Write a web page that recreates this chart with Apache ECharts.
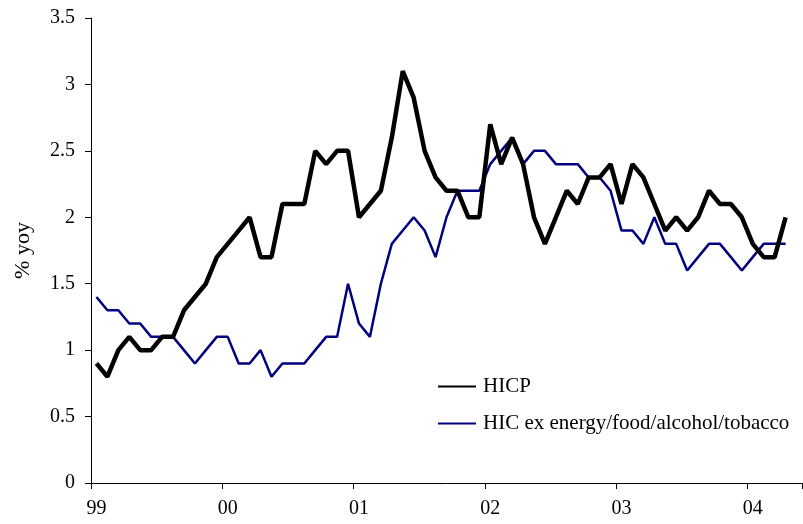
<!DOCTYPE html>
<html>
<head>
<meta charset="utf-8">
<script src="https://cdn.jsdelivr.net/npm/echarts@6/dist/echarts.min.js"></script>
<style>
  html, body { margin: 0; padding: 0; background: #fff; }
  #chart { width: 803px; height: 524px; }
</style>
</head>
<body>
<div id="chart"></div>
<script>
const years = ['99', '00', '01', '02', '03', '04']

// one category per month from Jan 1999; the axis runs a month past the data
const categories = []
years.forEach((y) => {
  for (let m = 1; m <= 12; m++) categories.push(y + '-' + m)
})
categories.length = 65

const hicp = [
  0.9, 0.8, 1.0, 1.1, 1.0, 1.0, 1.1, 1.1, 1.3, 1.4, 1.5, 1.7,
  1.8, 1.9, 2.0, 1.7, 1.7, 2.1, 2.1, 2.1, 2.5, 2.4, 2.5, 2.5,
  2.0, 2.1, 2.2, 2.6, 3.1, 2.9, 2.5, 2.3, 2.2, 2.2, 2.0, 2.0,
  2.7, 2.4, 2.6, 2.4, 2.0, 1.8, 2.0, 2.2, 2.1, 2.3, 2.3, 2.4,
  2.1, 2.4, 2.3, 2.1, 1.9, 2.0, 1.9, 2.0, 2.2, 2.1, 2.1, 2.0,
  1.8, 1.7, 1.7, 2.0,
]

const hicCore = [
  1.4, 1.3, 1.3, 1.2, 1.2, 1.1, 1.1, 1.1, 1.0, 0.9, 1.0, 1.1,
  1.1, 0.9, 0.9, 1.0, 0.8, 0.9, 0.9, 0.9, 1.0, 1.1, 1.1, 1.5,
  1.2, 1.1, 1.5, 1.8, 1.9, 2.0, 1.9, 1.7, 2.0, 2.2, 2.2, 2.2,
  2.4, 2.5, 2.6, 2.4, 2.5, 2.5, 2.4, 2.4, 2.4, 2.3, 2.3, 2.2,
  1.9, 1.9, 1.8, 2.0, 1.8, 1.8, 1.6, 1.7, 1.8, 1.8, 1.7, 1.6,
  1.7, 1.8, 1.8, 1.8,
]

const font = 'Liberation Serif'

const chart = echarts.init(document.getElementById('chart'))

chart.setOption({
  animation: false,
  grid: { left: 91, right: 1, top: 18, bottom: 41, containLabel: false },
  legend: {
    orient: 'vertical',
    left: 432,
    top: 371,
    itemWidth: 38,
    itemHeight: 14,
    itemGap: 16,
    itemStyle: { opacity: 0 },
    textStyle: { fontFamily: font, fontSize: 21, color: '#000', padding: [0, 0, 0, 2] },
    data: ['HICP', 'HIC ex energy/food/alcohol/tobacco'],
  },
  xAxis: {
    type: 'category',
    data: categories,
    boundaryGap: true,
    axisLine: { lineStyle: { color: '#000', width: 1 } },
    axisTick: { show: true, interval: 11, length: 6, lineStyle: { color: '#000' } },
    axisLabel: {
      interval: 11,
      margin: 16,
      fontFamily: font,
      fontSize: 20,
      color: '#000',
      formatter: (v) => v.split('-')[0],
    },
    splitLine: { show: false },
  },
  yAxis: {
    type: 'value',
    min: 0,
    max: 3.5,
    interval: 0.5,
    name: '% yoy',
    nameLocation: 'middle',
    nameGap: 57,
    nameTextStyle: { fontFamily: font, fontSize: 22, color: '#000' },
    axisLine: { show: true, lineStyle: { color: '#000', width: 1 } },
    axisTick: { show: true, length: 6, lineStyle: { color: '#000' } },
    axisLabel: { margin: 16, fontFamily: font, fontSize: 20, color: '#000' },
    splitLine: { show: false },
  },
  series: [
    {
      name: 'HICP',
      type: 'line',
      data: hicp,
      symbol: 'none',
      lineStyle: { color: '#000', width: 4.5 },
      itemStyle: { color: '#000' },
      z: 3,
    },
    {
      name: 'HIC ex energy/food/alcohol/tobacco',
      type: 'line',
      data: hicCore,
      symbol: 'none',
      lineStyle: { color: '#000080', width: 2.5 },
      itemStyle: { color: '#000080' },
      z: 2,
    },
  ],
})
</script>
</body>
</html>
